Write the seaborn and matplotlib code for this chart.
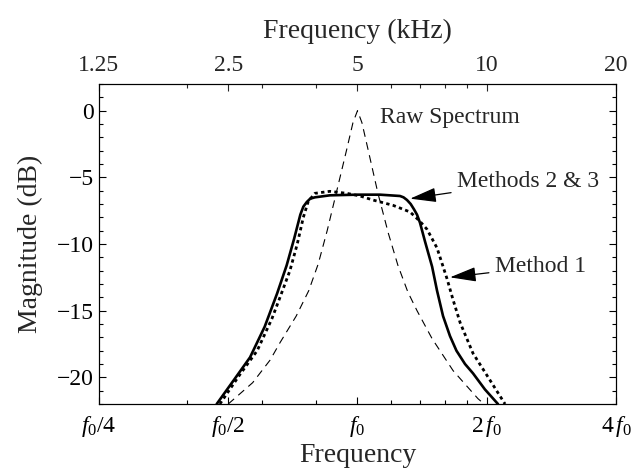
"""
Magnitude response of the three methods against the raw spectrum,
log frequency axis (f0 = 5 kHz) with a kHz scale on top.
"""

import matplotlib
matplotlib.use("Agg")
import matplotlib.pyplot as plt
import matplotlib.ticker as mticker
import seaborn as sns

sns.set_theme(style="ticks")
plt.rcParams["font.family"] = ["Liberation Serif", "DejaVu Serif"]
plt.rcParams["mathtext.fontset"] = "custom"
plt.rcParams["mathtext.rm"] = "Liberation Serif"
plt.rcParams["mathtext.it"] = "Liberation Serif:italic"

# frequencies in kHz, magnitudes in dB
raw_khz = [2.50, 2.85, 3.13, 3.30, 3.60, 3.85, 4.05, 4.25, 4.46, 4.72, 4.88,
           5.00, 5.12, 5.29, 5.58, 5.90, 6.21, 6.55, 6.88, 7.46, 8.35, 9.54, 9.86]
raw_db = [-22.0, -20.4, -18.7, -17.4, -15.4, -13.5, -11.5, -9.0, -6.2, -2.9, -0.9,
          0.0, -0.9, -2.9, -6.2, -9.2, -11.6, -13.6, -15.0, -17.1, -19.5, -21.6, -22.0]

m23_khz = [2.35, 2.59, 2.81, 3.04, 3.25, 3.42, 3.56, 3.68, 3.74, 3.81, 3.88, 3.98,
           4.31, 5.00, 5.64, 6.28, 6.40, 6.52, 6.65, 6.77, 6.88, 6.99, 7.18, 7.46,
           7.66, 7.91, 8.21, 8.50, 8.90, 9.29, 9.90, 10.62]
m23_db = [-22.0, -20.1, -18.5, -16.2, -13.7, -11.6, -9.6, -7.8, -7.2, -6.85, -6.6, -6.5,
          -6.35, -6.3, -6.3, -6.4, -6.5, -6.7, -7.0, -7.4, -7.8, -8.4, -9.8, -11.7,
          -13.5, -15.4, -16.9, -18.0, -19.0, -19.7, -20.9, -22.0]

m1_khz = [2.39, 2.66, 2.92, 3.16, 3.30, 3.48, 3.62, 3.74, 3.84, 3.98, 4.31, 4.72,
          5.07, 5.43, 6.05, 6.63, 6.99, 7.26, 7.66, 8.08, 8.35, 8.67, 9.29, 10.17,
          11.03]
m1_db = [-22.0, -19.8, -18.0, -15.6, -14.0, -12.0, -10.0, -8.0, -6.8, -6.2, -6.05,
         -6.2, -6.4, -6.7, -7.1, -7.6, -8.3, -8.9, -10.3, -12.6, -14.2, -15.9, -18.2,
         -20.2, -22.0]

top_ticks = [1.25, 2.5, 5, 10, 20]
top_labels = ["1.25", "2.5", "5", "10", "20"]
bottom_labels = [r"$f_0/4$", r"$f_0/2$", r"$f_0$", r"$2\,f_0$", r"$4\,f_0$"]
minor_ticks = [2, 3, 4, 6, 7, 8, 9]

fig = plt.figure(figsize=(6.32, 4.70), dpi=100)
ax = fig.add_axes([0.1566, 0.1404, 0.8181, 0.6809])

sns.lineplot(x=raw_khz, y=raw_db, ax=ax, color="black", lw=0.8,
             linestyle=(0, (7, 5)), sort=False)
sns.lineplot(x=m1_khz, y=m1_db, ax=ax, color="black", lw=2.0,
             linestyle=(0, (1.2, 1.2)), sort=False)
sns.lineplot(x=m23_khz, y=m23_db, ax=ax, color="black", lw=1.9, sort=False)

ax.set_xscale("log")
ax.set_xlim(1.25, 20)
ax.set_ylim(-22, 2)

ax.xaxis.set_major_locator(mticker.FixedLocator(top_ticks))
ax.xaxis.set_minor_locator(mticker.FixedLocator(minor_ticks))
ax.xaxis.set_major_formatter(mticker.FixedFormatter(bottom_labels))
ax.xaxis.set_minor_formatter(mticker.NullFormatter())
ax.yaxis.set_major_locator(mticker.MultipleLocator(5))
ax.yaxis.set_minor_locator(mticker.MultipleLocator(1))

ax.tick_params(which="both", direction="in", right=True, top=False,
               colors="black", labelsize=17, width=0.8)
ax.tick_params(which="major", length=5)
ax.tick_params(which="minor", length=3)
ax.tick_params(axis="x", pad=7)

ax2 = ax.twiny()
ax2.set_xscale("log")
ax2.set_xlim(ax.get_xlim())
ax2.xaxis.set_major_locator(mticker.FixedLocator(top_ticks))
ax2.xaxis.set_minor_locator(mticker.FixedLocator(minor_ticks))
ax2.xaxis.set_major_formatter(mticker.FixedFormatter(top_labels))
ax2.xaxis.set_minor_formatter(mticker.NullFormatter())
ax2.tick_params(which="both", direction="in", labelsize=17, width=0.8, pad=6)
ax2.tick_params(which="major", length=5)
ax2.tick_params(which="minor", length=3)

for a in (ax, ax2):
    for sp in a.spines.values():
        sp.set_color("black")
        sp.set_linewidth(0.8)

ax.set_xlabel("Frequency", fontsize=20, labelpad=3)
ax.set_ylabel("Magnitude (dB)", fontsize=20, labelpad=10)
ax2.set_xlabel("Frequency (kHz)", fontsize=20, labelpad=12)

ax.text(5.64, -0.5, "Raw Spectrum", fontsize=17, ha="left", va="center")
arrow = dict(arrowstyle="-|>,head_length=0.9,head_width=0.25", color="black",
             lw=0.9, shrinkA=2, shrinkB=0, mutation_scale=18)
ax.annotate("Methods 2 & 3", xy=(6.63, -6.6), xytext=(8.53, -5.3),
            fontsize=17, ha="left", va="center", arrowprops=arrow)
ax.annotate("Method 1", xy=(8.21, -12.5), xytext=(10.45, -11.7),
            fontsize=17, ha="left", va="center", arrowprops=arrow)

fig.savefig("out.png", dpi=100)
plt.close(fig)
